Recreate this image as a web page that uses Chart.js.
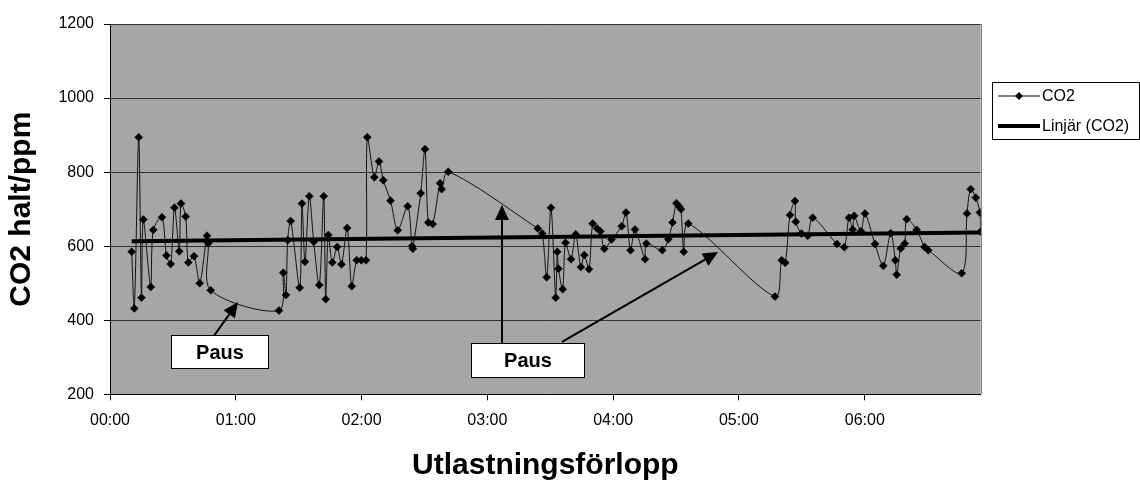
<!DOCTYPE html>
<html>
<head>
<meta charset="utf-8">
<script src="https://cdn.jsdelivr.net/npm/chart.js@4.4.1/dist/chart.umd.min.js"></script>
<style>
  html, body { margin: 0; padding: 0; background: #ffffff; }
  #wrap { width: 1140px; height: 481px; position: relative; }
</style>
</head>
<body>
<div id="wrap"><canvas id="c" width="1140" height="481"></canvas></div>
<script>
// Elapsed unloading time (minutes) and measured CO2 (ppm)
const minutes = [
  10.35, 11.59, 13.69, 15.02, 15.88, 19.41, 20.65, 24.80, 26.95, 28.95,
  30.76, 33.05, 33.86, 36.10, 37.35, 40.06, 42.78, 46.26, 46.88, 48.03,
  80.60, 82.66, 83.94, 84.75, 86.19, 90.48, 91.57, 93.01, 95.06, 97.16,
  99.83, 101.93, 102.88, 104.12, 106.03, 108.37, 110.41, 113.13, 115.28, 117.66,
  119.86, 122.10, 122.72, 126.06, 128.30, 130.35, 133.79, 137.22, 141.99, 144.04,
  144.42, 148.19, 150.24, 151.81, 153.91, 157.39, 158.21, 161.35, 204.04, 206.19,
  208.29, 210.33, 212.58, 213.34, 213.90, 215.91, 217.25, 219.87, 222.12, 224.55,
  226.22, 228.46, 230.23, 232.28, 233.94, 235.76, 239.19, 244.06, 246.11, 248.26,
  250.40, 255.18, 255.80, 263.42, 266.28, 268.29, 270.19, 271.38, 272.34, 273.67,
  275.82, 317.17, 320.37, 322.08, 324.33, 326.70, 327.10, 329.81, 332.77, 335.16,
  346.74, 350.22, 352.47, 354.23, 354.95, 358.19, 360.10, 364.87, 368.83, 372.36,
  374.55, 375.22, 377.17, 379.08, 379.99, 384.76, 388.48, 390.29, 406.22, 408.75,
  410.51, 412.95, 414.90, 415.20
];
const co2 = [
  585, 432, 894, 461, 672, 490, 644, 678, 575, 552,
  704, 586, 715, 680, 556, 573, 500, 628, 608, 481,
  426, 528, 468, 616, 668, 488, 715, 558, 735, 612,
  495, 735, 457, 630, 556, 598, 551, 649, 492, 562,
  562, 562, 894, 786, 829, 778, 723, 643, 708, 600,
  593, 743, 862, 664, 660, 770, 754, 801, 648, 634,
  516, 704, 461, 585, 539, 484, 609, 565, 632, 544,
  576, 538, 661, 648, 640, 593, 618, 654, 691, 589,
  645, 565, 607, 589, 619, 664, 716, 708, 700, 585,
  661, 464, 562, 555, 684, 722, 666, 634, 628, 677,
  606, 597, 677, 645, 682, 640, 688, 606, 547, 635,
  562, 523, 594, 607, 673, 644, 598, 589, 527, 688,
  754, 731, 691, 639
];

// Linear trend: value at first and last sample
const trendMinutes = [10.35, 415.20];
const trendPpm = [613, 637];

// Axis ticks
const xTickMinutes = [0, 60, 120, 180, 240, 300, 360];
const yTickValues = [200, 400, 600, 800, 1000, 1200];

// "Paus" call-outs (time in minutes, ppm)
const pauseLabels = [
  { t: 52.46, ppm: 315.5, w: 97, h: 33, text: 'Paus' },
  { t: 198.9, ppm: 292.6, w: 113, h: 34, text: 'Paus' }
];
const pauseArrows = [
  { from: [49.13, 354.6], to: [61.05, 449] },
  { from: [186.96, 338.7], to: [186.96, 711] },
  { from: [215.6, 341.4], to: [290.0, 584] }
];

const FONT = "'Liberation Sans', Arial, sans-serif";

function hhmm(m) {
  const h = Math.floor(m / 60), mm = Math.round(m % 60);
  return String(h).padStart(2, '0') + ':' + String(mm).padStart(2, '0');
}

const plotFrame = {
  id: 'plotFrame',
  beforeDraw(chart) {
    const { ctx, chartArea: a } = chart;
    ctx.save();
    ctx.fillStyle = '#a6a6a6';
    ctx.fillRect(a.left, a.top, a.right - a.left, a.bottom - a.top);
    ctx.restore();
  },
  afterDraw(chart) {
    const { ctx, chartArea: a } = chart;
    ctx.save();
    ctx.strokeStyle = '#808080';
    ctx.lineWidth = 1;
    ctx.beginPath();
    ctx.moveTo(Math.round(a.right) + 0.5, a.top);
    ctx.lineTo(Math.round(a.right) + 0.5, a.bottom);
    ctx.stroke();
    ctx.restore();
  }
};

const callouts = {
  id: 'callouts',
  afterDatasetsDraw(chart) {
    const { ctx } = chart;
    const xs = chart.scales.x, ys = chart.scales.y;
    ctx.save();
    ctx.strokeStyle = '#000';
    ctx.fillStyle = '#000';
    pauseArrows.forEach(a => {
      const x1 = xs.getPixelForValue(a.from[0]), y1 = ys.getPixelForValue(a.from[1]);
      const x2 = xs.getPixelForValue(a.to[0]), y2 = ys.getPixelForValue(a.to[1]);
      const ang = Math.atan2(y2 - y1, x2 - x1);
      const len = 15, half = 7;
      const bx = x2 - len * Math.cos(ang), by = y2 - len * Math.sin(ang);
      ctx.lineWidth = 2;
      ctx.beginPath();
      ctx.moveTo(x1, y1);
      ctx.lineTo(bx, by);
      ctx.stroke();
      ctx.beginPath();
      ctx.moveTo(x2, y2);
      ctx.lineTo(bx + half * Math.sin(ang), by - half * Math.cos(ang));
      ctx.lineTo(bx - half * Math.sin(ang), by + half * Math.cos(ang));
      ctx.closePath();
      ctx.fill();
    });
    pauseLabels.forEach(p => {
      const cx = xs.getPixelForValue(p.t), cy = ys.getPixelForValue(p.ppm);
      const l = Math.round(cx - p.w / 2) + 0.5, t = Math.round(cy - p.h / 2) + 0.5;
      ctx.fillStyle = '#fff';
      ctx.fillRect(l, t, p.w, p.h);
      ctx.lineWidth = 1;
      ctx.strokeStyle = '#000';
      ctx.strokeRect(l, t, p.w, p.h);
      ctx.fillStyle = '#000';
      ctx.font = 'bold 20px ' + FONT;
      ctx.textAlign = 'center';
      ctx.textBaseline = 'middle';
      ctx.fillText(p.text, l + p.w / 2, t + p.h / 2 + 1);
    });
    ctx.restore();
  }
};

const legendBox = {
  id: 'legendBox',
  afterDraw(chart) {
    const { ctx } = chart;
    const left = 992.5, top = 82.5, w = 147, h = 57;
    ctx.save();
    ctx.fillStyle = '#fff';
    ctx.fillRect(left, top, w, h);
    ctx.strokeStyle = '#000';
    ctx.lineWidth = 1;
    ctx.strokeRect(left, top, w, h);
    const rows = chart.data.datasets;
    const rowY = [96, 126];
    rows.forEach((ds, i) => {
      const y = rowY[i];
      ctx.strokeStyle = '#000';
      ctx.lineWidth = ds.borderWidth;
      ctx.beginPath();
      ctx.moveTo(998, y);
      ctx.lineTo(1040, y);
      ctx.stroke();
      if (ds.pointRadius > 0) {
        const r = ds.pointRadius;
        ctx.fillStyle = '#000';
        ctx.beginPath();
        ctx.moveTo(1019 - r, y);
        ctx.lineTo(1019, y - r);
        ctx.lineTo(1019 + r, y);
        ctx.lineTo(1019, y + r);
        ctx.closePath();
        ctx.fill();
      }
      ctx.fillStyle = '#000';
      ctx.font = '16px ' + FONT;
      ctx.textAlign = 'left';
      ctx.textBaseline = 'middle';
      ctx.fillText(ds.label, 1042, y + 1);
    });
    ctx.restore();
  }
};

new Chart(document.getElementById('c'), {
  type: 'line',
  data: {
    datasets: [
      {
        label: 'CO2',
        data: minutes.map((m, i) => ({ x: m, y: co2[i] })),
        borderColor: '#111',
        borderWidth: 1,
        tension: 0.3,
        pointStyle: 'rectRot',
        pointRadius: 4,
        pointBackgroundColor: '#000',
        pointBorderColor: '#000',
        pointBorderWidth: 0.5
      },
      {
        label: 'Linjär (CO2)',
        data: trendMinutes.map((m, i) => ({ x: m, y: trendPpm[i] })),
        borderColor: '#000',
        borderWidth: 4,
        pointRadius: 0,
        tension: 0
      }
    ]
  },
  options: {
    responsive: false,
    animation: false,
    devicePixelRatio: 1,
    layout: { padding: { left: 0, right: 159.3, top: 24, bottom: 0 } },
    plugins: { legend: { display: false }, tooltip: { enabled: false } },
    scales: {
      x: {
        type: 'linear',
        min: 0,
        max: 415.3,
        afterBuildTicks: s => { s.ticks = xTickMinutes.map(v => ({ value: v })); },
        afterFit: s => { s.height = 86.7; },
        grid: { drawOnChartArea: false, drawTicks: true, tickLength: 6, tickColor: '#000' },
        border: { color: '#000', width: 1 },
        ticks: {
          padding: 11,
          color: '#000',
          font: { family: FONT, size: 16 },
          maxRotation: 0,
          callback: v => hhmm(v)
        },
        title: {
          display: true,
          text: 'Utlastningsförlopp',
          color: '#000',
          font: { family: FONT, size: 30, weight: 'bold', lineHeight: 1 },
          padding: { top: 0, bottom: 0 }
        }
      },
      y: {
        min: 200,
        max: 1200,
        afterBuildTicks: s => { s.ticks = yTickValues.map(v => ({ value: v })); },
        afterFit: s => { s.width = 110; },
        grid: { color: '#333', lineWidth: 1, drawTicks: true, tickLength: 6, tickColor: '#000' },
        border: { color: '#000', width: 1 },
        ticks: {
          padding: 10,
          color: '#000',
          font: { family: FONT, size: 16 },
          callback: v => String(v)
        },
        title: {
          display: true,
          text: 'CO2 halt/ppm',
          color: '#000',
          font: { family: FONT, size: 30, weight: 'bold', lineHeight: 1 },
          padding: { top: 7, bottom: 0 }
        }
      }
    }
  },
  plugins: [plotFrame, callouts, legendBox]
});
</script>
</body>
</html>
